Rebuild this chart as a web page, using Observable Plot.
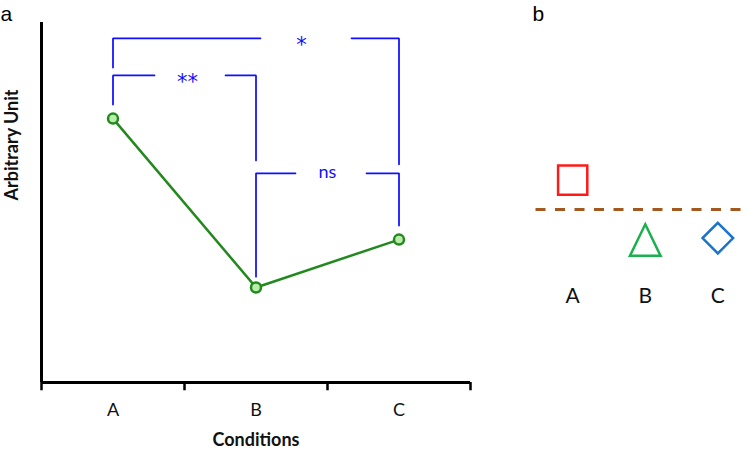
<!DOCTYPE html>
<html>
<head>
<meta charset="utf-8">
<script src="https://cdn.jsdelivr.net/npm/d3@7"></script>
<script src="https://cdn.jsdelivr.net/npm/@observablehq/plot@0.6"></script>
<style>
  html, body { margin: 0; padding: 0; background: #fff; }
  #wrap { position: relative; width: 750px; height: 450px; overflow: hidden; }
  #pa { position: absolute; left: 0; top: 0; }
  #pb { position: absolute; left: 520px; top: 0; }
</style>
</head>
<body>
<div id="wrap"><div id="pa"></div><div id="pb"></div></div>
<script>
// ---- Panel a data ----
const categories = ["A", "B", "C"];
const values = [73.3, 26.4, 39.7];           // arbitrary units
const axisBoundaries = [0, 1, 2, 3];

// significance brackets
const bracketLabels = ["*", "**", "ns"];
const bracketFrom = ["A", "A", "B"];
const bracketTo = ["C", "B", "C"];
const bracketTop = [95.6, 85.3, 58.1];
const bracketLeftEnd = [87.5, 77.2, 29.4];
const bracketRightEnd = [60.6, 61.7, 43.6];
const bracketGapStart = [1.531, 0.790, 1.776];
const bracketGapEnd = [2.168, 1.287, 2.273];
const bracketLabelX = [1.818, 1.021, 2.0];
const bracketLabelY = [93.6, 83.3, 58.3];

// ---- Panel b data ----
const markerCats = ["A", "B", "C"];
const markerLevels = [0.98, -1.03, -0.95];
const markerColors = ["#ff1a1a", "#1bb04e", "#1a74c8"];
const baselineLevel = [0];
const markerLabelLevel = -2.9;

const catX = c => categories.indexOf(c) + 0.5;

// bracket polylines
const bracketPts = [];
bracketLabels.forEach((lab, i) => {
  const x0 = catX(bracketFrom[i]), x1 = catX(bracketTo[i]);
  bracketPts.push({g: i + "L", x: x0, y: bracketLeftEnd[i]});
  bracketPts.push({g: i + "L", x: x0, y: bracketTop[i]});
  bracketPts.push({g: i + "L", x: bracketGapStart[i], y: bracketTop[i]});
  bracketPts.push({g: i + "R", x: bracketGapEnd[i], y: bracketTop[i]});
  bracketPts.push({g: i + "R", x: x1, y: bracketTop[i]});
  bracketPts.push({g: i + "R", x: x1, y: bracketRightEnd[i]});
});
const bracketText = bracketLabels.map((t, i) => ({t, x: bracketLabelX[i], y: bracketLabelY[i]}));
const starText = bracketText.filter(d => d.t !== "ns");
const nsText = bracketText.filter(d => d.t === "ns");

const lineData = categories.map((c, i) => ({c, x: i + 0.5, v: values[i]}));

const blue = "#1010ff";
const green = "#23891f";

const pa = Plot.plot({
  width: 520, height: 450,
  marginLeft: 41, marginRight: 50, marginTop: 22, marginBottom: 68,
  x: {domain: [0, 3], axis: null},
  y: {domain: [0, 100], axis: null},
  style: {fontFamily: "Lato, 'Open Sans', sans-serif", fontSize: "18px", background: "transparent", color: "#000"},
  marks: [
    // axes
    Plot.ruleX([0], {stroke: "#000", strokeWidth: 3}),
    Plot.ruleY([0], {x1: 0, x2: 3, stroke: "#000", strokeWidth: 3}),
    Plot.ruleX(axisBoundaries, {y1: 0, y2: -2.3, stroke: "#000", strokeWidth: 2.5}),
    Plot.text(categories, {x: (d, i) => i + 0.5, frameAnchor: "bottom", lineAnchor: "middle", dy: 28, fontSize: 18, fill: "#111"}),
    Plot.text(["Conditions"], {x: 1.5, frameAnchor: "bottom", lineAnchor: "middle", dy: 58, fontSize: 18, fontWeight: "bold", fill: "#111"}),
    Plot.text(["Arbitrary Unit"], {frameAnchor: "left", lineAnchor: "middle", rotate: -90, dx: -29, dy: -2, fontSize: 18, fontWeight: "bold", fill: "#111"}),
    Plot.text(["a"], {frameAnchor: "top-left", lineAnchor: "middle", textAnchor: "start", dx: -41, dy: -8.7, fontSize: 21, fontFamily: "'Liberation Sans', Arial, sans-serif", fill: "#000"}),
    // brackets
    Plot.line(bracketPts, {x: "x", y: "y", z: "g", stroke: blue, strokeWidth: 1.75, strokeLinejoin: "miter", curve: "linear"}),
    Plot.text(starText, {x: "x", y: "y", text: "t", fill: blue, fontSize: 21, fontFamily: "'DejaVu Sans', sans-serif", lineAnchor: "middle"}),
    Plot.text(nsText, {x: "x", y: "y", text: "t", fill: blue, fontSize: 18, lineAnchor: "middle"}),
    // data line
    Plot.line(lineData, {x: "x", y: "v", stroke: green, strokeWidth: 2.5}),
    Plot.dot(lineData, {x: "x", y: "v", r: 5, fill: "#b8eeaa", stroke: green, strokeWidth: 2.5})
  ]
});
document.getElementById("pa").appendChild(pa);

// custom open symbols
const symSquare = {draw(ctx, size) { const r = Math.sqrt(size / Math.PI); ctx.moveTo(-r, -r); ctx.lineTo(r, -r); ctx.lineTo(r, r); ctx.lineTo(-r, r); ctx.closePath(); }};
const symTriangle = {draw(ctx, size) { const r = Math.sqrt(size / Math.PI); ctx.moveTo(0, -1.06 * r); ctx.lineTo(r, r); ctx.lineTo(-r, r); ctx.closePath(); }};
const symDiamond = {draw(ctx, size) { const r = Math.sqrt(size / Math.PI); ctx.moveTo(0, -r); ctx.lineTo(r, 0); ctx.lineTo(0, r); ctx.lineTo(-r, 0); ctx.closePath(); }};
const symbols = [symSquare, symTriangle, symDiamond];
const markerRadius = [14.6, 15.3, 15.3];

const markerData = markerCats.map((c, i) => ({c, x: i, y: markerLevels[i], color: markerColors[i], sym: symbols[i], r: markerRadius[i]}));

const pb = Plot.plot({
  width: 230, height: 450,
  marginLeft: 13, marginRight: 0, marginTop: 0, marginBottom: 0,
  x: {domain: [-0.54, 2.45], axis: null},
  y: {domain: [-8.03, 6.97], axis: null},
  symbol: {type: "identity"},
  r: {type: "identity"},
  style: {fontFamily: "Lato, 'Open Sans', sans-serif", fontSize: "21px", background: "transparent", color: "#000"},
  marks: [
    Plot.ruleY(baselineLevel, {stroke: "#a3581f", strokeWidth: 3, strokeDasharray: "10,9.5", strokeDashoffset: 17}),
    Plot.dot(markerData, {x: "x", y: "y", symbol: "sym", r: "r", stroke: "color", fill: "none", strokeWidth: 2.5, strokeLinejoin: "miter"}),
    Plot.text(markerCats, {x: (d, i) => i, y: markerLabelLevel, lineAnchor: "middle", fontSize: 21, fill: "#111"}),
    Plot.text(["b"], {frameAnchor: "top-left", lineAnchor: "middle", textAnchor: "start", dx: -1, dy: 13.3, fontSize: 21, fontFamily: "'Liberation Sans', Arial, sans-serif", fill: "#000"})
  ]
});
document.getElementById("pb").appendChild(pb);
</script>
</body>
</html>
